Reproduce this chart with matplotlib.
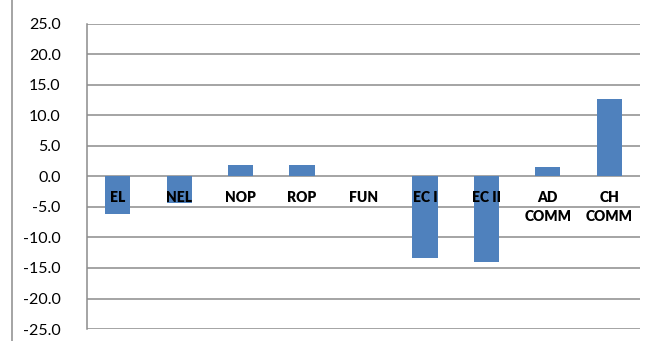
import numpy as np
import matplotlib.pyplot as plt
from matplotlib.lines import Line2D

categories = ["EL", "NEL", "NOP", "ROP", "FUN", "EC I", "EC II", "AD\nCOMM", "CH\nCOMM"]
values = [-6.1, -4.4, 1.9, 1.9, 0.05, -13.3, -14.0, 1.6, 12.6]
yticks = [-25, -20, -15, -10, -5, 0, 5, 10, 15, 20, 25]

plt.rcParams['font.family'] = ['Lato', 'DejaVu Sans']

fig = plt.figure(figsize=(6.58, 3.41), dpi=100)
ax = fig.add_axes([0.1322, 0.035, 0.8404, 0.896])

x = np.arange(len(categories))
ax.bar(x, values, width=0.41, color='#4F81BD', zorder=3)

ax.set_xlim(-0.5, len(categories) - 0.5)
ax.set_ylim(-25, 25)
ax.set_yticks(yticks)
ax.set_yticklabels([f"{v:.1f}" for v in yticks], fontsize=11.5)
ax.yaxis.grid(True, color='#8c8c8c', linewidth=1.1, zorder=0)
ax.set_xticks([])
ax.tick_params(axis='y', length=0, pad=19)

for s in ['top', 'right', 'bottom']:
    ax.spines[s].set_visible(False)
ax.spines['left'].set_color('#8c8c8c')
ax.spines['left'].set_linewidth(1.1)

# category labels sit just under the zero line
for xi, lab in zip(x, categories):
    ax.annotate(lab, (xi, 0), xytext=(0, -15), textcoords='offset pixels',
                ha='center', va='top', fontsize=10, fontweight='heavy',
                linespacing=1.55, zorder=4)

fig.add_artist(Line2D([12 / 658, 12 / 658], [0, 1], color='#8c8c8c',
                      linewidth=1.1, transform=fig.transFigure))

fig.savefig("out.png", dpi=100)
